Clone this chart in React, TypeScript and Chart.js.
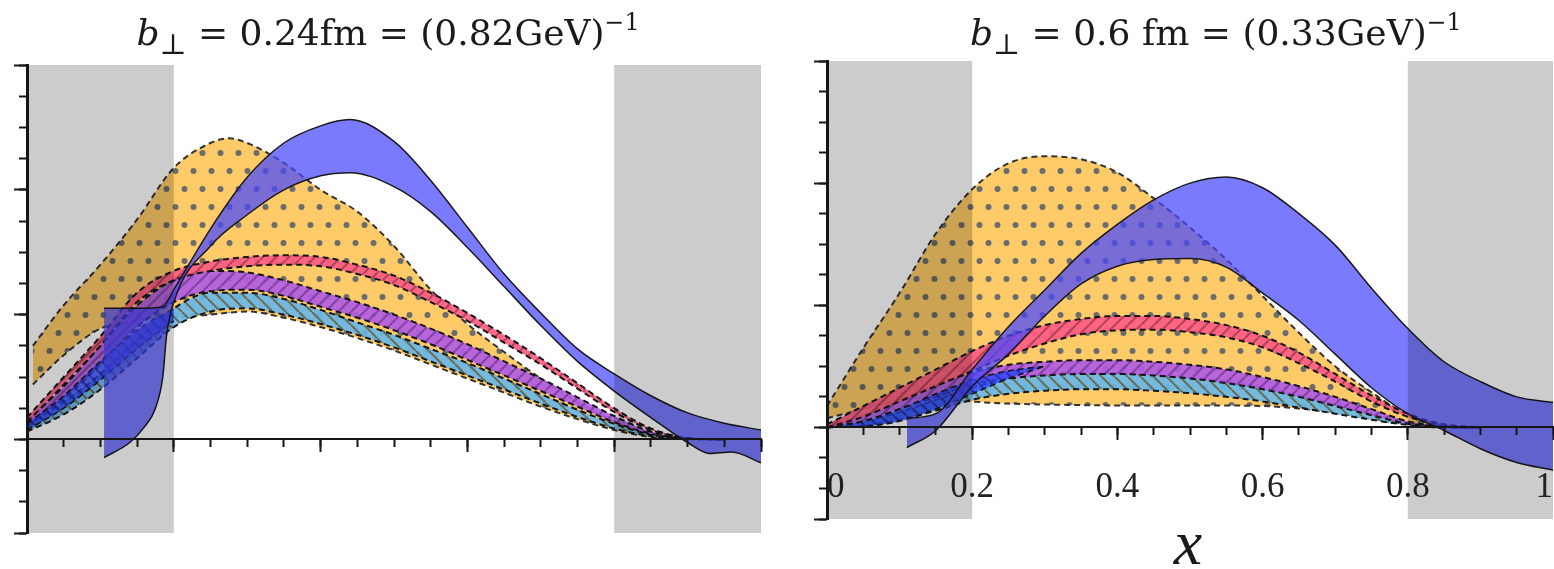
import React, { useEffect, useRef } from "react";
import { Chart, registerables } from "chart.js";

Chart.register(...registerables);

type Pt = [number, number];

// ---------- axis ranges / ticks ----------
const X_MIN = 0;
const X_MAX = 1;
const Y_MIN = -0.3;
const Y_MAX = 1.2;
const xMinorStep = 0.05;
const xMajorStep = 0.2;
const yMinorStep = 0.1;
const yMajorStep = 0.4;
const xTickLabels = ["0", "0.2", "0.4", "0.6", "0.8", "1"];
const grayRegions: Pt[] = [
  [0, 0.2],
  [0.8, 1],
];

// ---------- titles ----------
const leftTitleMain = " = 0.24fm = (0.82GeV)";
const rightTitleMain = " = 0.6 fm = (0.33GeV)";
const xAxisTitle = "x";

// ---------- LEFT panel (b = 0.24 fm) ----------
const leftOrangeHi: Pt[] = [[0.008,0.3],[0.05,0.43],[0.1,0.56],[0.15,0.705],[0.2,0.87],[0.25,0.95],[0.275,0.965],[0.3,0.95],[0.35,0.886],[0.4,0.8],[0.45,0.73],[0.5,0.62],[0.55,0.48],[0.6,0.37],[0.65,0.28],[0.7,0.195],[0.75,0.12],[0.8,0.058],[0.85,0.015],[0.9,0]];
const leftOrangeLo: Pt[] = [[0.008,0.176],[0.05,0.27],[0.1,0.355],[0.15,0.38],[0.2,0.39],[0.25,0.4],[0.3,0.41],[0.35,0.39],[0.4,0.36],[0.45,0.325],[0.5,0.285],[0.55,0.24],[0.6,0.195],[0.65,0.15],[0.7,0.105],[0.75,0.065],[0.8,0.03],[0.85,0.008],[0.9,0]];
const leftCyanHi: Pt[] = [[0,0.045],[0.05,0.12],[0.1,0.21],[0.15,0.32],[0.2,0.42],[0.25,0.47],[0.3,0.47],[0.35,0.45],[0.4,0.415],[0.45,0.375],[0.5,0.335],[0.55,0.29],[0.6,0.245],[0.65,0.195],[0.7,0.145],[0.75,0.095],[0.8,0.05],[0.85,0.015],[0.9,0.002],[0.95,0]];
const leftCyanLo: Pt[] = [[0,0.025],[0.05,0.08],[0.1,0.16],[0.15,0.26],[0.2,0.36],[0.25,0.41],[0.3,0.42],[0.35,0.4],[0.4,0.37],[0.45,0.335],[0.5,0.295],[0.55,0.25],[0.6,0.205],[0.65,0.16],[0.7,0.115],[0.75,0.072],[0.8,0.035],[0.85,0.01],[0.9,0.001],[0.95,0]];
const leftPurpleHi: Pt[] = [[0,0.06],[0.05,0.17],[0.1,0.3],[0.15,0.43],[0.2,0.51],[0.25,0.54],[0.3,0.535],[0.35,0.51],[0.4,0.475],[0.45,0.44],[0.5,0.4],[0.55,0.355],[0.6,0.305],[0.65,0.25],[0.7,0.195],[0.75,0.135],[0.8,0.075],[0.85,0.025],[0.9,0.004],[0.95,0]];
const leftPurpleLo: Pt[] = [[0,0.04],[0.05,0.13],[0.1,0.24],[0.15,0.36],[0.2,0.44],[0.25,0.475],[0.3,0.48],[0.35,0.46],[0.4,0.425],[0.45,0.39],[0.5,0.35],[0.55,0.305],[0.6,0.255],[0.65,0.205],[0.7,0.155],[0.75,0.105],[0.8,0.055],[0.85,0.018],[0.9,0.003],[0.95,0]];
const leftPinkHi: Pt[] = [[0,0.07],[0.05,0.2],[0.1,0.33],[0.15,0.47],[0.2,0.54],[0.25,0.57],[0.3,0.585],[0.35,0.59],[0.4,0.585],[0.45,0.56],[0.5,0.525],[0.55,0.47],[0.6,0.405],[0.65,0.335],[0.7,0.26],[0.75,0.18],[0.8,0.1],[0.85,0.035],[0.9,0.005],[0.95,0]];
const leftPinkLo: Pt[] = [[0,0.055],[0.05,0.175],[0.1,0.3],[0.15,0.44],[0.2,0.51],[0.25,0.54],[0.3,0.555],[0.35,0.56],[0.4,0.555],[0.45,0.53],[0.5,0.495],[0.55,0.44],[0.6,0.38],[0.65,0.31],[0.7,0.24],[0.75,0.163],[0.8,0.088],[0.85,0.03],[0.9,0.004],[0.95,0]];
const leftDarkBlueHi: Pt[] = [[0,0.05],[0.05,0.14],[0.1,0.25],[0.15,0.35],[0.2,0.42]];
const leftDarkBlueLo: Pt[] = [[0,0.03],[0.05,0.1],[0.1,0.19],[0.15,0.29],[0.2,0.38]];
const leftBlueHi: Pt[] = [[0.105,0.42],[0.15,0.42],[0.185,0.425],[0.2,0.48],[0.25,0.675],[0.3,0.84],[0.35,0.95],[0.4,1.005],[0.44,1.025],[0.5,0.955],[0.55,0.83],[0.6,0.68],[0.65,0.53],[0.7,0.405],[0.75,0.29],[0.8,0.21],[0.85,0.14],[0.9,0.085],[0.95,0.052],[1.0,0.03]];
const leftBlueLo: Pt[] = [[0.105,-0.058],[0.14,-0.01],[0.16,0.04],[0.175,0.1],[0.185,0.2],[0.19,0.33],[0.2,0.44],[0.25,0.62],[0.3,0.72],[0.35,0.8],[0.4,0.845],[0.44,0.855],[0.5,0.81],[0.55,0.73],[0.6,0.615],[0.65,0.49],[0.7,0.365],[0.75,0.25],[0.8,0.155],[0.85,0.07],[0.9,-0.01],[0.93,-0.045],[0.96,-0.04],[1.0,-0.075]];

// ---------- RIGHT panel (b = 0.6 fm) ----------
const rightOrangeHi: Pt[] = [[0,0.07],[0.05,0.26],[0.1,0.44],[0.15,0.635],[0.2,0.78],[0.25,0.865],[0.3,0.888],[0.35,0.878],[0.4,0.835],[0.45,0.75],[0.5,0.655],[0.55,0.55],[0.6,0.43],[0.65,0.31],[0.7,0.2],[0.75,0.115],[0.8,0.04],[0.85,0.005],[0.9,0]];
const rightOrangeLo: Pt[] = [[0,0.03],[0.05,0.06],[0.1,0.09],[0.15,0.1],[0.2,0.085],[0.25,0.078],[0.3,0.075],[0.4,0.072],[0.5,0.072],[0.6,0.07],[0.65,0.062],[0.7,0.048],[0.75,0.028],[0.8,0.01],[0.85,0.002],[0.9,0]];
const rightCyanHi: Pt[] = [[0,0],[0.05,0.02],[0.1,0.05],[0.15,0.09],[0.2,0.13],[0.25,0.16],[0.3,0.175],[0.35,0.18],[0.4,0.178],[0.45,0.172],[0.5,0.163],[0.55,0.15],[0.6,0.13],[0.65,0.105],[0.7,0.075],[0.75,0.045],[0.8,0.015],[0.85,0.002],[0.9,0]];
const rightCyanLo: Pt[] = [[0,0],[0.05,0.005],[0.1,0.025],[0.15,0.055],[0.2,0.09],[0.25,0.11],[0.3,0.12],[0.35,0.125],[0.4,0.125],[0.45,0.12],[0.5,0.112],[0.55,0.1],[0.6,0.085],[0.65,0.065],[0.7,0.045],[0.75,0.025],[0.8,0.008],[0.85,0],[0.9,0]];
const rightPurpleHi: Pt[] = [[0,0.005],[0.05,0.04],[0.1,0.09],[0.15,0.14],[0.2,0.18],[0.25,0.205],[0.3,0.215],[0.35,0.22],[0.4,0.22],[0.45,0.215],[0.5,0.205],[0.55,0.19],[0.6,0.165],[0.65,0.135],[0.7,0.1],[0.75,0.06],[0.8,0.02],[0.85,0.003],[0.9,0]];
const rightPurpleLo: Pt[] = [[0,0],[0.05,0.02],[0.1,0.06],[0.15,0.1],[0.2,0.14],[0.25,0.16],[0.3,0.17],[0.35,0.175],[0.4,0.175],[0.45,0.17],[0.5,0.16],[0.55,0.145],[0.6,0.125],[0.65,0.1],[0.7,0.07],[0.75,0.04],[0.8,0.012],[0.85,0.002],[0.9,0]];
const rightPinkHi: Pt[] = [[0,0.01],[0.05,0.07],[0.1,0.13],[0.15,0.19],[0.2,0.25],[0.25,0.3],[0.3,0.335],[0.35,0.355],[0.4,0.365],[0.45,0.365],[0.5,0.355],[0.55,0.335],[0.6,0.3],[0.65,0.245],[0.7,0.175],[0.75,0.105],[0.8,0.045],[0.85,0.01],[0.9,0]];
const rightPinkLo: Pt[] = [[0,0],[0.05,0.035],[0.1,0.085],[0.15,0.135],[0.2,0.185],[0.25,0.235],[0.3,0.275],[0.35,0.305],[0.4,0.318],[0.45,0.32],[0.5,0.312],[0.55,0.295],[0.6,0.262],[0.65,0.21],[0.7,0.15],[0.75,0.085],[0.8,0.035],[0.85,0.007],[0.9,0]];
const rightDarkBlueHi: Pt[] = [[0,0],[0.05,0.02],[0.1,0.06],[0.15,0.11],[0.2,0.155],[0.25,0.185],[0.3,0.2]];
const rightDarkBlueLo: Pt[] = [[0,0],[0.05,0.003],[0.1,0.02],[0.15,0.06],[0.2,0.11],[0.25,0.16],[0.3,0.2]];
const rightBlueHi: Pt[] = [[0.11,0.03],[0.15,0.045],[0.2,0.19],[0.25,0.33],[0.3,0.45],[0.35,0.57],[0.4,0.665],[0.45,0.745],[0.5,0.8],[0.55,0.82],[0.6,0.785],[0.65,0.7],[0.7,0.597],[0.75,0.456],[0.8,0.324],[0.85,0.215],[0.9,0.15],[0.95,0.1],[1.0,0.082]];
const rightBlueLo: Pt[] = [[0.11,-0.066],[0.15,-0.01],[0.2,0.135],[0.25,0.24],[0.3,0.365],[0.35,0.47],[0.4,0.528],[0.45,0.55],[0.5,0.553],[0.55,0.525],[0.6,0.44],[0.65,0.35],[0.7,0.24],[0.75,0.13],[0.8,0.045],[0.85,-0.01],[0.9,-0.07],[0.95,-0.115],[1.0,-0.14]];

type Kind = "orange" | "cyan" | "purple" | "pink" | "darkblue" | "blue";
interface Band { kind: Kind; hi: Pt[]; lo: Pt[]; }

const leftBands: Band[] = [
  { kind: "orange", hi: leftOrangeHi, lo: leftOrangeLo },
  { kind: "cyan", hi: leftCyanHi, lo: leftCyanLo },
  { kind: "purple", hi: leftPurpleHi, lo: leftPurpleLo },
  { kind: "pink", hi: leftPinkHi, lo: leftPinkLo },
  { kind: "darkblue", hi: leftDarkBlueHi, lo: leftDarkBlueLo },
  { kind: "blue", hi: leftBlueHi, lo: leftBlueLo },
];
const rightBands: Band[] = [
  { kind: "orange", hi: rightOrangeHi, lo: rightOrangeLo },
  { kind: "cyan", hi: rightCyanHi, lo: rightCyanLo },
  { kind: "purple", hi: rightPurpleHi, lo: rightPurpleLo },
  { kind: "pink", hi: rightPinkHi, lo: rightPinkLo },
  { kind: "darkblue", hi: rightDarkBlueHi, lo: rightDarkBlueLo },
  { kind: "blue", hi: rightBlueHi, lo: rightBlueLo },
];

function dotPattern(ctx: CanvasRenderingContext2D, base: string, dot: string) {
  const c = document.createElement("canvas");
  c.width = 18;
  c.height = 36;
  const g = c.getContext("2d")!;
  g.fillStyle = base;
  g.fillRect(0, 0, 18, 36);
  g.fillStyle = dot;
  [[4.5, 9], [13.5, 27]].forEach(([x, y]) => {
    g.beginPath();
    g.arc(x, y, 3, 0, Math.PI * 2);
    g.fill();
  });
  return ctx.createPattern(c, "repeat")!;
}

function hatchPattern(ctx: CanvasRenderingContext2D, base: string, line: string, back: boolean) {
  const s = 13;
  const c = document.createElement("canvas");
  c.width = s;
  c.height = s;
  const g = c.getContext("2d")!;
  g.fillStyle = base;
  g.fillRect(0, 0, s, s);
  g.strokeStyle = line;
  g.lineWidth = 2.2;
  for (const o of [-s, 0, s]) {
    g.beginPath();
    if (back) {
      g.moveTo(o, 0);
      g.lineTo(o + s, s);
    } else {
      g.moveTo(o, s);
      g.lineTo(o + s, 0);
    }
    g.stroke();
  }
  return ctx.createPattern(c, "repeat")!;
}

const grayPlugin = {
  id: "grayMultiply",
  afterDatasetsDraw(chart: any) {
    const { ctx, scales } = chart;
    const xs = scales.x;
    const ys = scales.y;
    ctx.save();
    ctx.globalCompositeOperation = "multiply";
    ctx.fillStyle = "#CCCCCC";
    for (const [a, b] of grayRegions) {
      const x0 = xs.getPixelForValue(a);
      const x1 = xs.getPixelForValue(b);
      const y0 = ys.getPixelForValue(Y_MAX);
      const y1 = ys.getPixelForValue(Y_MIN);
      ctx.fillRect(x0, y0, x1 - x0, y1 - y0);
    }
    ctx.restore();
  },
};

function buildChart(canvas: HTMLCanvasElement, bands: Band[], showLabels: boolean, padding: any) {
  const ctx = canvas.getContext("2d")!;
  const styles: Record<Kind, any> = {
    orange: { bg: dotPattern(ctx, "#FFCB68", "#6c6c6c"), border: "#333333", dash: [6, 4], width: 2 },
    cyan: { bg: hatchPattern(ctx, "rgba(105,185,232,0.92)", "rgba(100,85,50,0.75)", true), border: "#151515", dash: [6, 4], width: 2 },
    purple: { bg: hatchPattern(ctx, "rgba(178,92,228,0.92)", "rgba(90,40,120,0.55)", false), border: "#151515", dash: [6, 4], width: 2 },
    pink: { bg: hatchPattern(ctx, "rgba(255,92,130,0.92)", "rgba(120,40,60,0.55)", false), border: "#151515", dash: [6, 4], width: 2 },
    darkblue: { bg: hatchPattern(ctx, "rgba(45,70,255,0.8)", "rgba(20,20,120,0.5)", true), border: "#151515", dash: [6, 4], width: 1.6 },
    blue: { bg: "rgba(70,70,255,0.72)", border: "#1a1a1a", dash: [], width: 1.5 },
  };
  const datasets: any[] = [];
  bands.forEach((b, i) => {
    const s = styles[b.kind];
    const common = {
      borderColor: s.border,
      borderDash: s.dash,
      borderWidth: s.width,
      pointRadius: 0,
      cubicInterpolationMode: "monotone",
      xAxisID: "x",
      yAxisID: "y",
    };
    datasets.push({ ...common, data: b.hi.map(([x, y]) => ({ x, y })), fill: 2 * i + 1, backgroundColor: s.bg, order: -(2 * i) });
    datasets.push({ ...common, data: b.lo.map(([x, y]) => ({ x, y })), fill: false, backgroundColor: s.bg, order: -(2 * i + 1) });
  });

  const tickGrid = (len: number) => ({
    display: true,
    drawOnChartArea: false,
    drawTicks: true,
    tickLength: len,
    tickWidth: 2,
    tickColor: "#161616",
    z: 1,
  });

  const scales: any = {
    x: {
      type: "linear", axis: "x", min: X_MIN, max: X_MAX, position: { y: 0 },
      ticks: { display: false, stepSize: xMinorStep },
      grid: tickGrid(7),
      border: { display: true, color: "#161616", width: 2, z: 1 },
    },
    xMajor: {
      type: "linear", axis: "x", min: X_MIN, max: X_MAX, position: { y: 0 },
      ticks: { display: false, stepSize: xMajorStep },
      grid: tickGrid(13),
      border: { display: false },
    },
    y: {
      type: "linear", axis: "y", min: Y_MIN, max: Y_MAX, position: { x: 0 },
      ticks: { display: false, stepSize: yMinorStep },
      grid: tickGrid(7),
      border: { display: true, color: "#161616", width: 3, z: 1 },
    },
    yMajor: {
      type: "linear", axis: "y", min: Y_MIN, max: Y_MAX, position: { x: 0 },
      ticks: { display: false, stepSize: yMajorStep },
      grid: tickGrid(13),
      border: { display: false },
    },
  };
  if (showLabels) {
    scales.xLabels = {
      type: "linear", axis: "x", min: X_MIN, max: X_MAX, position: "bottom",
      ticks: {
        stepSize: xMajorStep, align: "inner", mirror: true, padding: 10, maxRotation: 0, z: 2,
        font: { family: "'Liberation Serif', serif", size: 35 }, color: "#222",
        callback: (_v: any, i: number) => xTickLabels[i],
      },
      grid: { display: false, drawTicks: false },
      border: { display: false },
      afterFit: (s: any) => {
        s.height = 0;
        s.paddingLeft = 0;
        s.paddingRight = 0;
      },
    };
  }

  return new Chart(canvas, {
    type: "line",
    data: { datasets },
    options: {
      animation: false,
      responsive: false,
      devicePixelRatio: 1,
      events: [],
      layout: { padding },
      plugins: { legend: { display: false }, tooltip: { enabled: false }, title: { display: false } },
      scales,
    } as any,
    plugins: [grayPlugin],
  });
}

const titleStyle: React.CSSProperties = {
  position: "absolute",
  top: 12,
  fontFamily: "'DejaVu Serif', serif",
  fontSize: 36,
  lineHeight: "42px",
  whiteSpace: "nowrap",
  textAlign: "center",
  color: "#1a1a1a",
};

function Title({ left, width, main }: { left: number; width: number; main: string }) {
  return (
    <div style={{ ...titleStyle, left, width }}>
      <i>b</i>
      <span style={{ fontSize: "0.8em", position: "relative", top: "0.32em" }}>⊥</span>
      {main}
      <span style={{ fontSize: "0.66em", position: "relative", top: "-0.62em" }}>−1</span>
    </div>
  );
}

export default function App() {
  const leftRef = useRef<HTMLCanvasElement>(null);
  const rightRef = useRef<HTMLCanvasElement>(null);

  useEffect(() => {
    const a = buildChart(leftRef.current!, leftBands, false, { left: 27, right: 16, top: 65, bottom: 36 });
    const b = buildChart(rightRef.current!, rightBands, true, { left: 50, right: 1, top: 61, bottom: 50 });
    return () => {
      a.destroy();
      b.destroy();
    };
  }, []);

  return (
    <div style={{ position: "absolute", left: 0, top: 0, width: 1554, height: 569, background: "#fff", overflow: "hidden" }}>
      <canvas ref={leftRef} width={777} height={569} style={{ position: "absolute", left: 0, top: 0, width: 777, height: 569 }} />
      <canvas ref={rightRef} width={777} height={569} style={{ position: "absolute", left: 777, top: 0, width: 777, height: 569 }} />
      <Title left={135} width={506} main={leftTitleMain} />
      <Title left={970} width={486} main={rightTitleMain} />
      <div
        style={{
          position: "absolute", left: 1150, top: 511, width: 76, textAlign: "center",
          fontFamily: "'Liberation Serif', serif", fontStyle: "italic", fontSize: 64, lineHeight: "64px", color: "#1a1a1a",
        }}
      >
        {xAxisTitle}
      </div>
    </div>
  );
}
